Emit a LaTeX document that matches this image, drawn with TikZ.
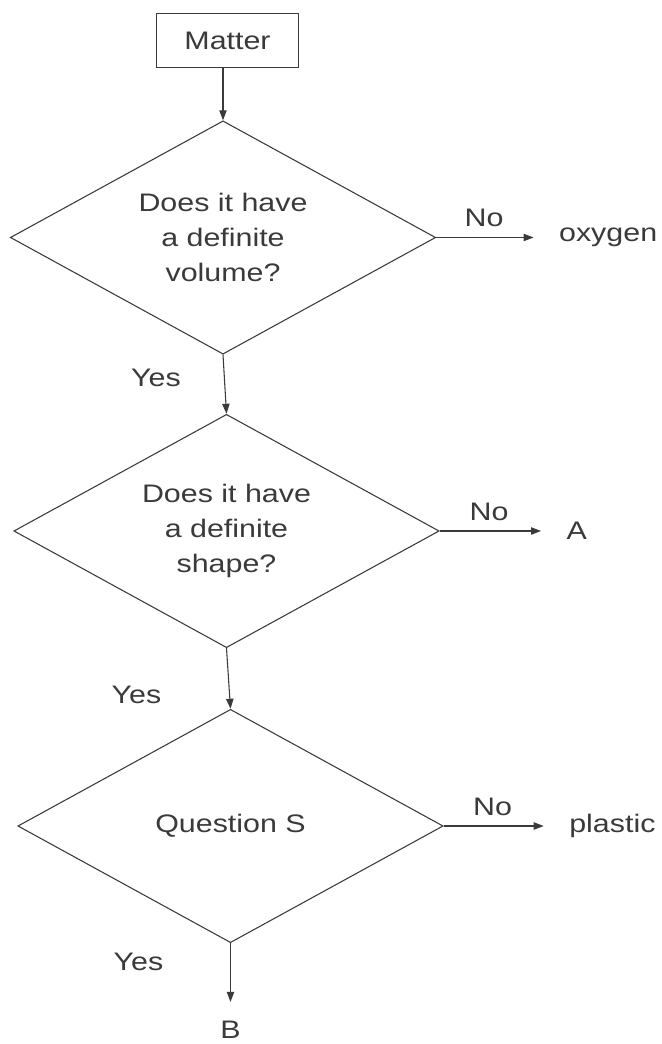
\documentclass[tikz,border=0pt]{standalone}
\usepackage{fontspec}
\setmainfont{Liberation Sans}[FakeStretch=1.2]
\usetikzlibrary{shapes.geometric, arrows.meta, positioning}
\definecolor{flowgray}{HTML}{3A3A3A}

\begin{document}
\begin{tikzpicture}[
    x=0.75pt, y=-0.75pt,
    every node/.style={font=\fontsize{19}{26.25}\selectfont, text=flowgray},
    startbox/.style={draw=flowgray, line width=0.7pt, minimum width=107pt, minimum height=41pt},
    question/.style={diamond, aspect=1.84, draw=flowgray, line width=0.8pt, inner sep=0pt, minimum width=319pt, minimum height=175pt, align=center},
    outcome/.style={inner sep=0pt},
    lbl/.style={inner sep=0pt},
    arrow/.style={-{Triangle[length=7.5pt, width=5.5pt]}, line width=0.8pt, draw=flowgray}
]
    \useasboundingbox (0,0) rectangle (661,1044);

    % Start
    \node[startbox] (matter) at (227.5,40.5) {Matter};

    % Questions
    \node[question] (volq) at (223,237.5) {Does it have\\a definite\\volume?};
    \node[question] (shapeq) at (226.5,531) {Does it have\\a definite\\shape?};
    \node[question] (sq) at (230.5,826) {Question S};

    % Outcomes
    \node[outcome, right=92pt of volq] (oxygen) {oxygen};
    \node[outcome, right=95pt of shapeq] (a) {A};
    \node[outcome, right=94pt of sq] (plastic) {plastic};
    \node[outcome, below=58pt of sq] (b) {B};

    % Arrows
    \draw[arrow] (matter.south -| volq.north) -- (volq.north);
    \draw[arrow] (volq.south) -- (shapeq.north);
    \draw[arrow] (shapeq.south) -- (sq.north);
    \draw[arrow, shorten >=14pt] (sq.south) -- (b.north);
    \draw[arrow, shorten >=19pt] (volq.east) -- node[pos=0.39, above=4pt] {No} (oxygen.west);
    \draw[arrow, shorten >=19pt] (shapeq.east) -- node[pos=0.39, above=4pt] {No} (a.west);
    \draw[arrow, shorten >=19pt] (sq.east) -- node[pos=0.39, above=4pt] {No} (plastic.west);

    % Yes labels
    \node[lbl, below left=10.5pt and 31.5pt of volq.south] (yes1) {Yes};
    \node[lbl, below left=28.5pt and 48.75pt of shapeq.south] (yes2) {Yes};
    \node[lbl, below left=7.5pt and 50.25pt of sq.south] (yes3) {Yes};
\end{tikzpicture}
\end{document}
